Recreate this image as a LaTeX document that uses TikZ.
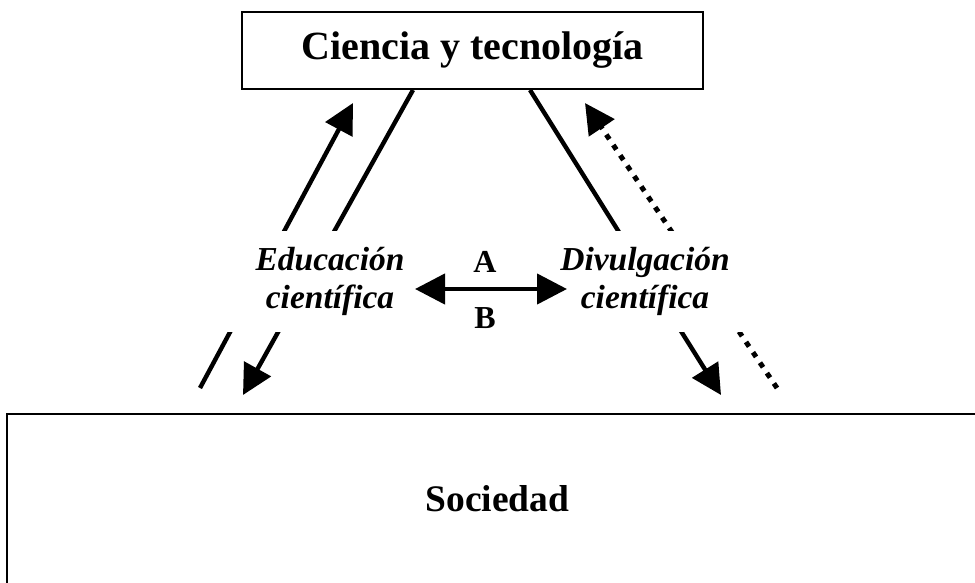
\documentclass[tikz,border=0pt]{standalone}
\usepackage{fontspec}
\setmainfont{Liberation Serif}
\usetikzlibrary{arrows.meta,positioning}

\begin{document}
\begin{tikzpicture}[x = 1pt, y = -1pt,
  bigtip/.tip = {Triangle[length = 30pt, width = 30pt]},
  flow/.style = {line width = 4.4pt, -bigtip},
  dotflow/.style = {flow, line width = 5pt, dash pattern = on 5.5pt off 7pt},
  tag/.style = {fill = white, align = center, inner sep = 0pt, minimum height = 101pt, font = \fontsize{33.5}{38}\selectfont\bfseries\itshape}]
\clip (0,0) rectangle (975,582);
\node[draw, line width = 2pt, minimum width = 461pt, minimum height = 77pt, font = \fontsize{40}{44}\selectfont\bfseries] (1) at (472.5,50.5) {Ciencia y tecnología};
\node[draw, line width = 2.7pt, minimum width = 981pt, minimum height = 170pt, font = \fontsize{37.5}{42}\selectfont\bfseries] (2) at (497.5,499) {Sociedad};
\coordinate (7) at (200,388);
\coordinate (8) at (353,103);
\coordinate (9) at (243,395);
\coordinate (10) at (721,395);
\coordinate (11) at (777,388);
\coordinate (12) at (585,103);
\draw[flow] (7) -- (8);
\draw[flow] ([xshift = -59.5pt]1.south) -- (9);
\draw[flow] ([xshift = 57.5pt]1.south) -- (10);
\draw[dotflow] (11) -- (12);
\node[tag, minimum width = 210pt] (3) at (330,281) {Educación\\científica};
\node[tag, minimum width = 200pt] (4) at (645,281) {Divulgación\\científica};
\node[font = \fontsize{32}{36}\selectfont\bfseries] (5) at (485,262) {A};
\node[font = \fontsize{32}{36}\selectfont\bfseries] (6) at (485,318) {B};
\coordinate (13) at (415,289);
\coordinate (14) at (567,289);
\draw[flow, bigtip-bigtip] (13) -- (14);
\end{tikzpicture}
\end{document}
